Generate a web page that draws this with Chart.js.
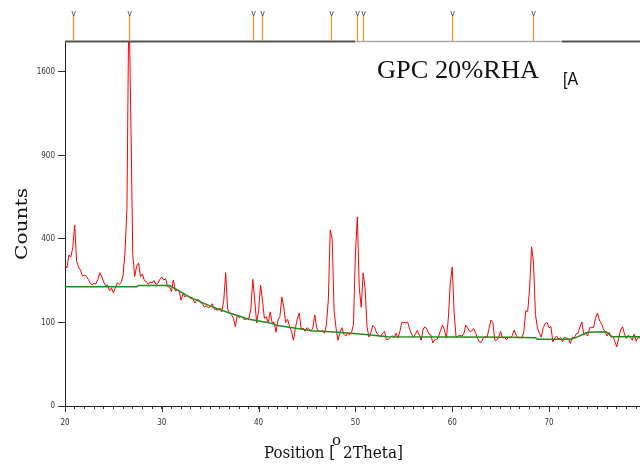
<!DOCTYPE html>
<html>
<head>
<meta charset="utf-8">
<script src="https://cdn.jsdelivr.net/npm/chart.js@4.4.0/dist/chart.umd.min.js"></script>
<style>
  html, body { margin: 0; padding: 0; background: #fff; overflow: hidden; }
  canvas { display: block; }
</style>
</head>
<body>
<canvas id="xrd" width="640" height="466"></canvas>
<script>
// XRD pattern, GPC 20% RHA — square-root intensity axis

// measured pattern: 2theta from 20.0 in 0.2 deg steps
const thetaStart = 20.0;
const thetaStep = 0.2;
const counts = [
    285, 273, 327, 318, 360, 470, 300, 277, 265, 242,
    245, 242, 230, 217, 210, 216, 214, 230, 255, 239,
    220, 207, 210, 190, 200, 183, 200, 217, 212, 218,
    246, 340, 560, 2400, 1200, 330, 240, 280, 293, 240,
    250, 225, 222, 212, 220, 217, 226, 212, 215, 230,
    239, 228, 232, 204, 203, 188, 228, 190, 193, 188,
    160, 183, 170, 175, 170, 165, 166, 152, 161, 162,
    153, 150, 140, 144, 138, 141, 150, 135, 134, 131,
    138, 127, 160, 255, 135, 124, 119, 111, 90, 118,
    112, 116, 111, 106, 110, 110, 135, 230, 161, 99,
    130, 210, 160, 110, 114, 99, 127, 100, 100, 78,
    106, 115, 170, 140, 100, 108, 90, 80, 62, 88,
    108, 124, 85, 87, 80, 88, 85, 80, 87, 119,
    88, 80, 80, 82, 76, 94, 160, 444, 400, 130,
    87, 62, 76, 88, 74, 70, 77, 72, 78, 95,
    330, 512, 200, 140, 254, 200, 90, 68, 78, 93,
    88, 76, 72, 68, 76, 80, 63, 64, 67, 71,
    67, 76, 66, 80, 100, 100, 99, 101, 85, 74,
    68, 74, 82, 72, 62, 85, 90, 84, 74, 72,
    57, 63, 63, 70, 82, 94, 83, 66, 110, 215,
    277, 124, 68, 70, 72, 70, 74, 94, 87, 80,
    80, 86, 78, 66, 59, 58, 66, 70, 67, 86,
    106, 100, 62, 62, 67, 80, 66, 68, 63, 67,
    67, 71, 83, 72, 66, 68, 66, 80, 130, 128,
    200, 363, 293, 120, 88, 76, 68, 88, 97, 100,
    88, 90, 59, 67, 70, 64, 67, 59, 68, 66,
    65, 56, 68, 66, 74, 76, 90, 101, 72, 78,
    70, 88, 88, 88, 110, 124, 106, 98, 86, 78,
    70, 78, 68, 70, 60, 50, 66, 83, 90, 74,
    65, 72, 68, 62, 74, 60, 68, 66
];

// fitted background
const bgTheta  = [20, 27.4, 27.6, 30.8, 31.5, 32.9, 35, 37, 39, 41.2, 42, 45.5, 48.2, 50.8, 53.3, 66, 68.6, 68.8, 72.3, 73, 74, 75.9, 76.5, 79.4];
const bgCounts = [204, 204, 208, 208, 195, 170, 143, 124, 108, 99, 93, 81, 78, 74, 69, 68, 67, 64, 64, 69, 78, 79, 69, 69];

// reference peak markers (2theta)
const refPeaks = [20.86, 26.64, 39.47, 40.3, 47.5, 50.2, 50.8, 60.0, 68.3];

// axes
const xMin = 20, xMax = 79.4;
const xTickLabels = [20, 30, 40, 50, 60, 70];
const yTickLabels = [0, 100, 400, 900, 1600];
const yMaxCounts = 1910;

const twoTheta = counts.map((_, i) => +(thetaStart + i * thetaStep).toFixed(1));
const xMinorTicks = [];
for (let v = Math.ceil(xMin); v <= Math.floor(xMax); v++) xMinorTicks.push(v);

const tickFont = { family: '"DejaVu Sans Condensed", "Liberation Sans Narrow", Arial, sans-serif', size: 8 };

// draw text squeezed/stretched to a measured width
function fitText(ctx, text, x, y, width, font) {
    ctx.font = font;
    const w = ctx.measureText(text).width;
    ctx.save();
    ctx.translate(x, y);
    ctx.scale(width / w, 1);
    ctx.fillText(text, 0, 0);
    ctx.restore();
}

const decorPlugin = {
    id: 'decor',
    afterDraw(chart) {
        const { ctx, chartArea: { top, bottom, left, right }, scales: { x } } = chart;
        ctx.save();

        // major tick extensions
        ctx.strokeStyle = '#333';
        ctx.lineWidth = 1;
        xTickLabels.forEach(v => {
            const px = Math.round(x.getPixelForValue(v)) + 0.5;
            ctx.beginPath();
            ctx.moveTo(px, bottom);
            ctx.lineTo(px, bottom + 6);
            ctx.stroke();
        });

        // top frame line (lighter behind the label box)
        const seg = (x0, x1, color, w) => {
            ctx.strokeStyle = color;
            ctx.lineWidth = w;
            ctx.beginPath();
            ctx.moveTo(x0, top + 0.5);
            ctx.lineTo(x1, top + 0.5);
            ctx.stroke();
        };
        seg(left, 355, '#555', 2);
        seg(355, 562, '#aaa', 1.5);
        seg(562, right, '#555', 2);

        // reference peak sticks
        ctx.textAlign = 'center';
        ctx.textBaseline = 'alphabetic';
        refPeaks.forEach(p => {
            const px = Math.round(x.getPixelForValue(p)) + 0.5;
            ctx.strokeStyle = '#ff8c1a';
            ctx.lineWidth = 1.2;
            ctx.beginPath();
            ctx.moveTo(px, 16);
            ctx.lineTo(px, top);
            ctx.stroke();
            ctx.fillStyle = '#444';
            ctx.font = '8px "DejaVu Sans", sans-serif';
            ctx.fillText('v', px, 16);
        });

        // titles
        ctx.fillStyle = '#111';
        ctx.textAlign = 'left';
        ctx.textBaseline = 'alphabetic';
        fitText(ctx, 'GPC 20%RHA', 377, 78, 162, '25px "Liberation Serif", serif');
        fitText(ctx, '[A', 563, 85, 15, '19px "Liberation Sans", sans-serif');

        fitText(ctx, 'Position [', 264, 458, 71, '17px "DejaVu Serif", serif');
        fitText(ctx, 'o', 332, 445, 9, '14px "DejaVu Serif", serif');
        fitText(ctx, '2Theta]', 343, 458, 60, '17px "DejaVu Serif", serif');

        ctx.save();
        ctx.translate(27, 260);
        ctx.rotate(-Math.PI / 2);
        fitText(ctx, 'Counts', 0, 0, 72, '17px "DejaVu Serif", serif');
        ctx.restore();

        ctx.restore();
    }
};

new Chart(document.getElementById('xrd'), {
    type: 'line',
    data: {
        datasets: [
            {
                label: 'Background',
                data: bgTheta.map((t, i) => ({ x: t, y: Math.sqrt(bgCounts[i]) })),
                borderColor: '#1e8c1e',
                borderWidth: 1.5,
                pointRadius: 0,
                tension: 0
            },
            {
                label: 'GPC 20%RHA',
                data: twoTheta.map((t, i) => ({ x: t, y: Math.sqrt(counts[i]) })),
                borderColor: '#ff0000',
                borderWidth: 1,
                pointRadius: 0,
                tension: 0
            }
        ]
    },
    plugins: [decorPlugin],
    options: {
        responsive: false,
        animation: false,
        devicePixelRatio: 1,
        layout: { padding: { top: 41, right: 0, bottom: 0, left: 0 } },
        plugins: {
            legend: { display: false },
            tooltip: { enabled: false }
        },
        scales: {
            x: {
                type: 'linear',
                min: xMin,
                max: xMax,
                afterBuildTicks: s => { s.ticks = xMinorTicks.map(v => ({ value: v })); },
                afterFit: s => { s.height = 60; s.paddingLeft = 0; s.paddingRight = 0; },
                grid: { drawOnChartArea: false, tickLength: 3, color: '#333' },
                border: { color: '#222', width: 1 },
                ticks: {
                    autoSkip: false,
                    maxRotation: 0,
                    padding: 9,
                    color: '#333',
                    font: tickFont,
                    callback: v => (xTickLabels.includes(v) ? String(v) : '')
                }
            },
            y: {
                type: 'linear',
                min: 0,
                max: Math.sqrt(yMaxCounts),
                afterBuildTicks: s => { s.ticks = yTickLabels.map(v => ({ value: Math.sqrt(v) })); },
                afterFit: s => { s.width = 65; s.paddingTop = 0; s.paddingBottom = 0; },
                grid: { drawOnChartArea: false, tickLength: 7, color: '#333' },
                border: { color: '#222', width: 1 },
                ticks: {
                    padding: 3,
                    color: '#333',
                    font: tickFont,
                    callback: v => String(Math.round(v * v))
                }
            }
        }
    }
});
</script>
</body>
</html>
